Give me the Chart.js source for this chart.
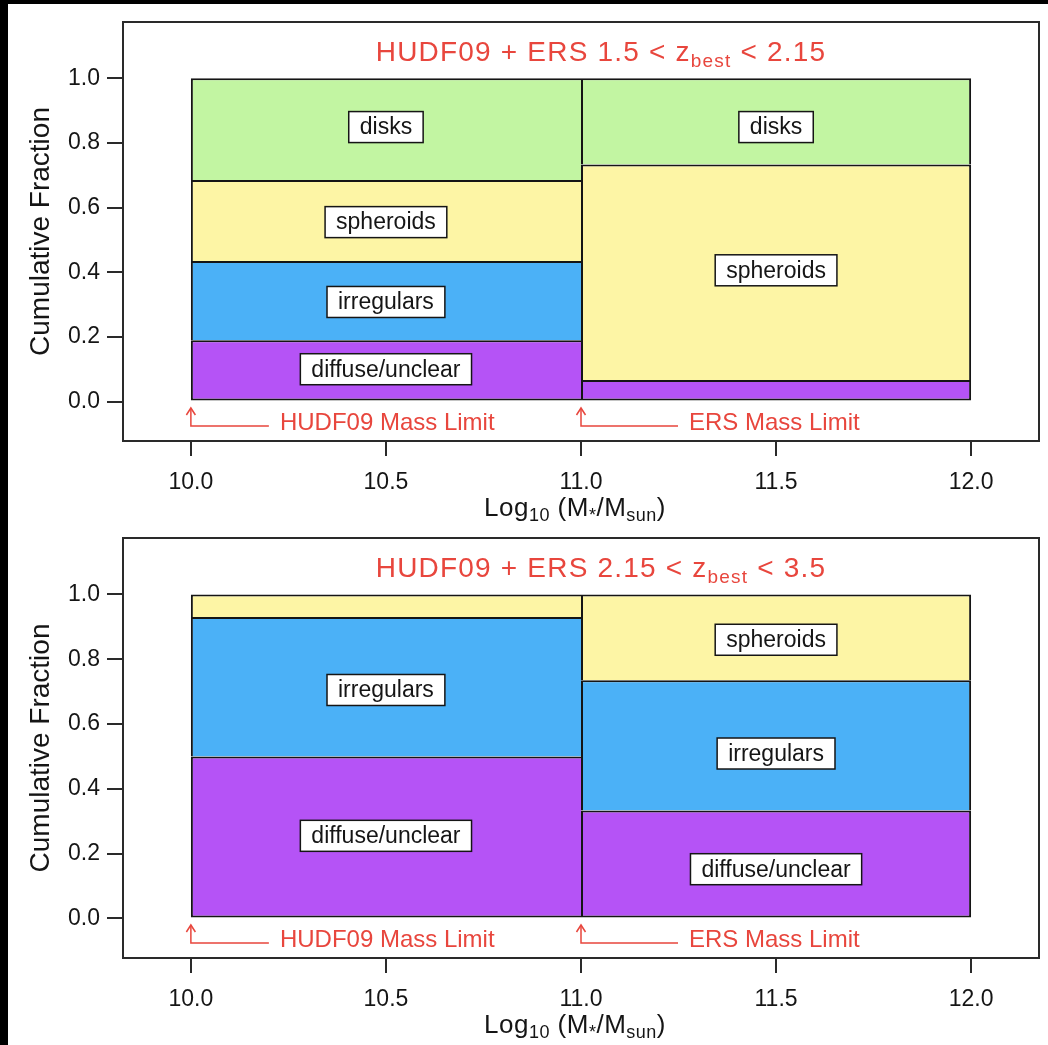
<!doctype html>
<html lang="en">

<head>
  <meta charset="utf-8">
  <title>Morphology fractions - HUDF09 + ERS</title>
  <script src="https://cdn.jsdelivr.net/npm/chart.js@4"></script>
  <style>
    body { margin: 0; background: #000; }
    #sheet { position: absolute; left: 8px; top: 4px; width: 1040px; height: 1041px; background: #fff; }
    canvas { position: absolute; left: 0; }
    #topChart { top: 0; }
    #bottomChart { top: 517px; }
  </style>
</head>

<body>
  <div id="sheet">
    <canvas id="topChart" width="1040" height="517"></canvas>
    <canvas id="bottomChart" width="1040" height="524"></canvas>
  </div>

  <script>
    // === DATA ===

    // bins in log10 stellar mass, drawn at their centres
    const binCenters = [10.5, 11.5];
    const xTicks = [10.0, 10.5, 11.0, 11.5, 12.0];
    const yTicks = [0.0, 0.2, 0.4, 0.6, 0.8, 1.0];
    const classNames = ["diffuse/unclear", "irregulars", "spheroids", "disks"];

    // panel 1: 1.5 < z_best < 2.15 (fraction per class, per bin)
    const lowzDiffuse = [0.190, 0.067];
    const lowzIrregulars = [0.245, 0.0];
    const lowzSpheroids = [0.250, 0.666];
    const lowzDisks = [0.315, 0.267];

    // panel 2: 2.15 < z_best < 3.5
    const highzDiffuse = [0.500, 0.333];
    const highzIrregulars = [0.430, 0.402];
    const highzSpheroids = [0.070, 0.265];
    const highzDisks = [0.0, 0.0];

    // box labels inside the bars
    const lowzLabelText = ["disks", "spheroids", "irregulars", "diffuse/unclear", "disks", "spheroids"];
    const lowzLabelX = [10.5, 10.5, 10.5, 10.5, 11.5, 11.5];
    const lowzLabelY = [0.849, 0.555, 0.308, 0.100, 0.849, 0.406];
    const highzLabelText = ["irregulars", "diffuse/unclear", "spheroids", "irregulars", "diffuse/unclear"];
    const highzLabelX = [10.5, 10.5, 11.5, 11.5, 11.5];
    const highzLabelY = [0.705, 0.255, 0.860, 0.509, 0.152];

    // survey mass limits
    const massLimits = [10.0, 11.0];
    const massLimitNames = ["HUDF09 Mass Limit", "ERS Mass Limit"];

    // === STYLE ===

    const FONT = '"Liberation Sans", Arial, Helvetica, sans-serif';
    const INK = "#151515";
    const RED = "#e8463d";
    const classColors = ["#b553f6", "#4bb1f7", "#fdf5a5", "#c2f5a2"];
    const arrowRun = [78, 97]; // length of the horizontal arrow leg, px

    // === HELPERS ===

    // draw a run of text pieces (for subscripts), centred on cx
    function drawRich(ctx, segs, cx, baseY, spacing) {
      ctx.letterSpacing = spacing || "0px";
      let total = 0;
      segs.forEach(s => {
        ctx.font = s.size + "px " + FONT;
        s.w = ctx.measureText(s.t).width;
        total += s.w;
      });
      let px = cx - total / 2;
      ctx.textAlign = "left";
      ctx.textBaseline = "alphabetic";
      segs.forEach(s => {
        ctx.font = s.size + "px " + FONT;
        ctx.fillText(s.t, px, baseY + (s.dy || 0));
        px += s.w;
      });
      ctx.letterSpacing = "0px";
    }

    function decorPlugin(panel) {
      return {
        id: "decor",
        afterDatasetsDraw(chart) {
          const { ctx, chartArea: a, scales } = chart;
          const x = scales.x, y = scales.y;
          ctx.save();

          // frame round the plot
          ctx.strokeStyle = "#2a2a2a";
          ctx.lineWidth = 2;
          ctx.strokeRect(a.left, a.top, a.right - a.left, a.bottom - a.top);

          // class labels in white boxes
          ctx.font = "23px " + FONT;
          ctx.textAlign = "center";
          ctx.textBaseline = "middle";
          panel.labelText.forEach((t, i) => {
            const px = x.getPixelForValue(panel.labelX[i]);
            const py = y.getPixelForValue(panel.labelY[i]);
            const w = ctx.measureText(t).width + 22, h = 31;
            ctx.fillStyle = "#fff";
            ctx.fillRect(px - w / 2, py - h / 2, w, h);
            ctx.strokeStyle = INK;
            ctx.lineWidth = 1.5;
            ctx.strokeRect(px - w / 2, py - h / 2, w, h);
            ctx.fillStyle = INK;
            ctx.fillText(t, px, py + 1);
          });

          // mass limit arrows
          ctx.strokeStyle = RED;
          ctx.fillStyle = RED;
          ctx.lineWidth = 1.5;
          ctx.font = "24px " + FONT;
          ctx.textAlign = "left";
          ctx.textBaseline = "alphabetic";
          massLimits.forEach((m, i) => {
            const bx = x.getPixelForValue(m);
            const lineY = a.bottom - 15, tipY = a.bottom - 33;
            ctx.beginPath();
            ctx.moveTo(bx, tipY);
            ctx.lineTo(bx, lineY);
            ctx.lineTo(bx + arrowRun[i], lineY);
            ctx.stroke();
            ctx.beginPath();
            ctx.moveTo(bx - 4.5, tipY + 7);
            ctx.lineTo(bx, tipY);
            ctx.lineTo(bx + 4.5, tipY + 7);
            ctx.stroke();
            ctx.fillText(massLimitNames[i], bx + arrowRun[i] + 11, a.bottom - 11);
          });

          // panel title
          const mid = (a.left + a.right) / 2;
          ctx.fillStyle = RED;
          drawRich(ctx, panel.title, mid + 20, a.top + 39, "1.2px");

          // x axis title
          ctx.fillStyle = INK;
          drawRich(ctx, [
            { t: "Log", size: 26 },
            { t: "10", size: 18, dy: 5 },
            { t: " (M", size: 26 },
            { t: "*", size: 18, dy: 5 },
            { t: "/M", size: 26 },
            { t: "sun", size: 18, dy: 5 },
            { t: ")", size: 26 }
          ], mid - 6, a.bottom + 75, "0.5px");

          // y axis title
          ctx.translate(a.left - 74, (a.top + a.bottom) / 2);
          ctx.rotate(-Math.PI / 2);
          ctx.font = "28px " + FONT;
          ctx.textAlign = "center";
          ctx.textBaseline = "alphabetic";
          ctx.fillText("Cumulative Fraction", 0, 0);

          ctx.restore();
        }
      };
    }

    // === CHART BUILDER ===

    function makePanel(canvasId, series, panel, padTop, axisHeight) {
      const datasets = series.map((vals, k) => ({
        label: classNames[k],
        data: vals.map((v, i) => ({ x: binCenters[i], y: v })),
        xAxisID: "xb",
        backgroundColor: classColors[k],
        borderColor: INK,
        borderSkipped: false,
        inflateAmount: 0,
        borderWidth: ctx => ({
          top: 2,
          bottom: k === 0 ? 2 : 0,
          left: 2,
          right: ctx.dataIndex === 1 ? 2 : 0
        }),
        barPercentage: 1,
        categoryPercentage: 1
      }));

      const tickFont = { family: FONT, size: 23 };
      const zeroPad = s => { s.paddingLeft = 0; s.paddingRight = 0; s.paddingTop = 0; s.paddingBottom = 0; };

      return new Chart(document.getElementById(canvasId), {
        type: "bar",
        data: { datasets },
        options: {
          responsive: false,
          devicePixelRatio: 1,
          animation: false,
          layout: { padding: { top: padTop, right: 9, left: 0, bottom: 0 } },
          plugins: { legend: { display: false }, tooltip: { enabled: false }, title: { display: false } },
          scales: {
            xb: {
              type: "linear",
              display: false,
              stacked: true,
              offset: false,
              grid: { offset: false },
              min: 9.826,
              max: 12.174,
              afterBuildTicks: s => { s.ticks = []; }
            },
            x: {
              type: "linear",
              position: "bottom",
              offset: false,
              min: 9.826,
              max: 12.174,
              afterBuildTicks: s => { s.ticks = xTicks.map(v => ({ value: v })); },
              afterFit: s => { zeroPad(s); s.height = axisHeight; },
              ticks: { font: tickFont, color: INK, padding: 13, maxRotation: 0, callback: v => v.toFixed(1) },
              grid: { offset: false, drawOnChartArea: false, drawTicks: true, tickLength: 15, color: "#2a2a2a", lineWidth: 2 },
              border: { display: false }
            },
            y: {
              type: "linear",
              stacked: true,
              min: -0.122,
              max: 1.174,
              afterBuildTicks: s => { s.ticks = yTicks.map(v => ({ value: v })); },
              afterFit: s => { zeroPad(s); s.width = 115; },
              ticks: { font: tickFont, color: INK, padding: 7, callback: v => v.toFixed(1) },
              grid: { drawOnChartArea: false, drawTicks: true, tickLength: 16, color: "#2a2a2a", lineWidth: 2 },
              border: { display: false }
            }
          }
        },
        plugins: [decorPlugin(panel)]
      });
    }

    // === INIT ===

    makePanel("topChart", [lowzDiffuse, lowzIrregulars, lowzSpheroids, lowzDisks], {
      labelText: lowzLabelText, labelX: lowzLabelX, labelY: lowzLabelY,
      title: [
        { t: "HUDF09 + ERS 1.5 < z", size: 28 },
        { t: "best", size: 19, dy: 6 },
        { t: " < 2.15", size: 28 }
      ]
    }, 18, 80);

    makePanel("bottomChart", [highzDiffuse, highzIrregulars, highzSpheroids, highzDisks], {
      labelText: highzLabelText, labelX: highzLabelX, labelY: highzLabelY,
      title: [
        { t: "HUDF09 + ERS 2.15 < z", size: 28 },
        { t: "best", size: 19, dy: 6 },
        { t: " < 3.5", size: 28 }
      ]
    }, 17, 87);
  </script>

</body>

</html>
